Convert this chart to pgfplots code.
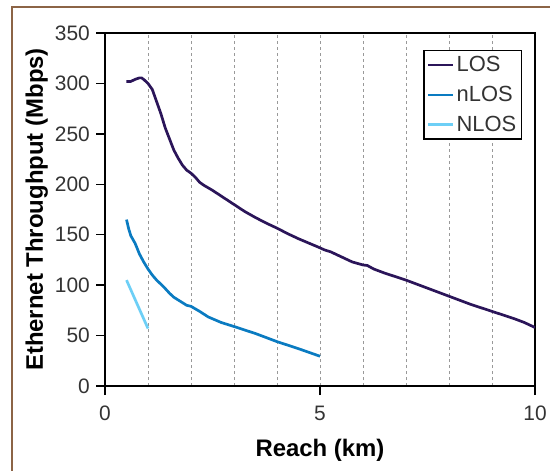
\documentclass[border=0pt]{standalone}
\usepackage{pgfplots}
\pgfplotsset{compat=1.18}
\usepackage{fontspec}
\setmainfont{Liberation Sans}
\definecolor{losc}{RGB}{43,21,89}
\definecolor{nlosc}{RGB}{10,123,193}
\definecolor{bigN}{RGB}{109,207,246}
\definecolor{framec}{RGB}{140,100,70}
\definecolor{txt}{RGB}{51,51,51}

\begin{document}
\begin{tikzpicture}
	\path[use as bounding box] (-105bp,-85bp) rectangle (445bp,386bp);
	\draw[framec, line width=2bp] (-93bp,-100bp) rectangle (460bp,379bp);
	\begin{axis}[
		scale only axis,
		width=430bp, height=353bp,
		xmin=0, xmax=10, ymin=0, ymax=350,
		xtick={0,5,10},
		minor xtick={1,2,3,4,6,7,8,9},
		ytick={0,50,...,350},
		xtick pos=bottom, ytick pos=left,
		tick align=outside,
		major tick length=9bp,
		minor tick length=0pt,
		every tick/.style={black, line width=1.5bp},
		axis line style={line width=1.5bp},
		xmajorgrids, xminorgrids,
		major grid style={gray!80, line width=0.6bp, dash pattern=on 3bp off 3bp},
		minor grid style={gray!80, line width=0.6bp, dash pattern=on 3bp off 3bp},
		/pgf/number format/assume math mode=true,
		ticklabel style={font=\fontsize{21}{24}\selectfont, text=txt},
		xticklabel style={anchor=north, inner sep=0pt, yshift=-11bp},
		yticklabel style={anchor=east, inner sep=0pt, xshift=-6bp},
		xlabel={Reach (km)},
		ylabel={Ethernet Throughput (Mbps)},
		label style={font=\fontsize{24}{27}\selectfont\bfseries},
		x label style={at={(axis description cs:0.5,-0.2011)}, anchor=base},
		y label style={at={(axis description cs:-0.1442,0.5)}, anchor=base},
		legend style={at={(rel axis cs:0.970,0.952)}, anchor=north east,
			draw=black, line width=1.5bp, font=\fontsize{22}{24}\selectfont,
			text=txt, inner xsep=3bp, inner ysep=4bp, row sep=9bp},
		legend cell align=left,
		legend image code/.code={\draw[#1, line width=2.7bp] (0bp,0bp) -- (25bp,0bp);},
		]
		\addplot[losc, line width=2.7bp] coordinates {
			(0.5,302) (0.6,302) (0.7,304) (0.8,305.5) (0.85,305.5) (0.9,304)
			(1.0,300) (1.1,294) (1.2,282) (1.3,270) (1.4,256) (1.5,245)
			(1.6,234) (1.7,226) (1.8,219) (1.9,214) (2.0,211) (2.1,207)
			(2.2,202) (2.3,199) (2.5,194) (2.75,187) (3.0,180) (3.25,173)
			(3.5,167) (3.75,161.5) (4.0,156.5) (4.25,151) (4.5,146) (4.75,141.5)
			(5.0,137) (5.1,135) (5.25,133) (5.5,128) (5.75,123) (6.0,120)
			(6.1,119.5) (6.25,116) (6.5,112) (7.0,105) (7.5,97) (8.0,89)
			(8.5,81) (9.0,74) (9.5,67) (9.75,63) (10,58)
		};
		\addlegendentry{LOS}
		\addplot[nlosc, line width=2.7bp] coordinates {
			(0.5,165) (0.55,156) (0.6,149) (0.7,141.5) (0.8,131) (0.9,123)
			(1.0,116) (1.1,110) (1.2,105) (1.36,98.5) (1.5,92) (1.6,88)
			(1.75,84) (1.9,80) (2.0,79) (2.2,74) (2.4,68.5) (2.7,63)
			(3.0,59) (3.5,52) (4.0,44) (4.5,37) (5.0,29.5)
		};
		\addlegendentry{nLOS}
		\addplot[bigN, line width=2.7bp] coordinates {
			(0.5,105) (1.0,57)
		};
		\addlegendentry{NLOS}
	\end{axis}
\end{tikzpicture}
\end{document}
